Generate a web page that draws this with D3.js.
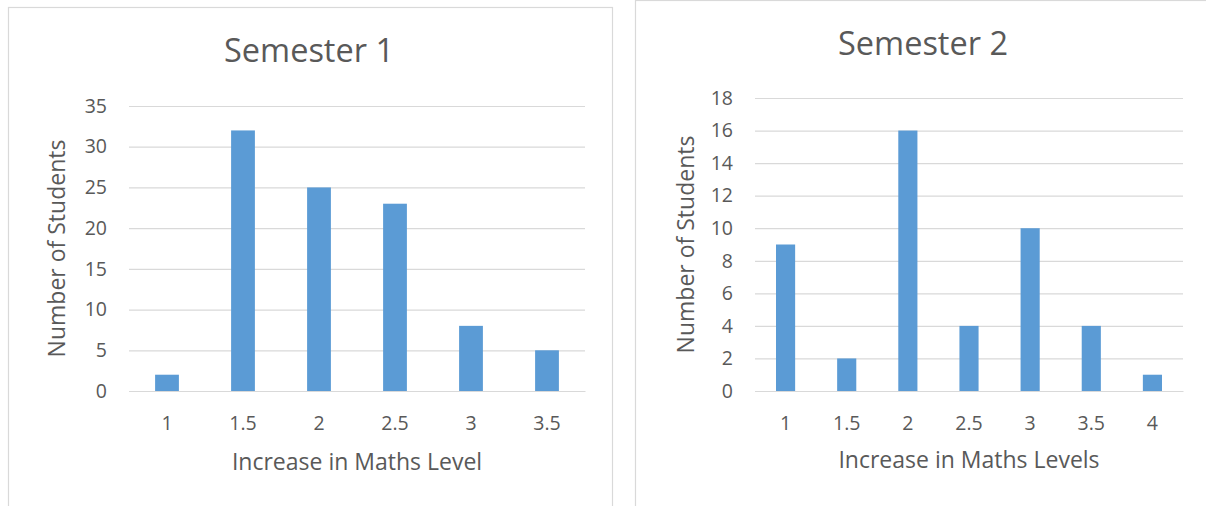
<!DOCTYPE html>
<html>
<head>
<meta charset="utf-8">
<script src="https://cdn.jsdelivr.net/npm/d3@7"></script>
<style>
  html, body { margin: 0; padding: 0; background: #fff; }
  svg { display: block; }
  text { font-family: "Open Sans", "Noto Sans", sans-serif; fill: #595959; }
</style>
</head>
<body>
<svg id="chart" width="1206" height="506"></svg>
<script>
// Semester 1: number of students per increase in maths level
const sem1Levels = ["1", "1.5", "2", "2.5", "3", "3.5"];
const sem1Students = [2, 32, 25, 23, 8, 5];
const sem1Ticks = [0, 5, 10, 15, 20, 25, 30, 35];

// Semester 2
const sem2Levels = ["1", "1.5", "2", "2.5", "3", "3.5", "4"];
const sem2Students = [9, 2, 16, 4, 10, 4, 1];
const sem2Ticks = [0, 2, 4, 6, 8, 10, 12, 14, 16, 18];

const svg = d3.select("#chart");
const BAR = "#5B9BD5", GRID = "#D9D9D9";
const TICK_SIZE = 19.5, AXIS_TITLE_SIZE = 23, TITLE_SIZE = 32.5;

function drawPanel(cfg) {
  const g = svg.append("g");

  // panel frame
  g.append("rect")
    .attr("x", cfg.frame[0] + 0.5).attr("y", cfg.frame[1] + 0.5)
    .attr("width", cfg.frame[2]).attr("height", cfg.frame[3])
    .attr("fill", "#fff").attr("stroke", GRID).attr("stroke-width", 1.2);

  const [x0, x1, yTop, yBot] = cfg.plot;
  const x = d3.scaleBand().domain(cfg.levels).range([x0, x1])
    .paddingInner(0.687).paddingOuter(0.3435);
  const y = d3.scaleLinear().domain([0, d3.max(cfg.ticks)]).range([yBot, yTop]);

  // gridlines + y tick labels
  const ya = g.append("g").attr("transform", `translate(${x0},0)`)
    .call(d3.axisLeft(y).tickValues(cfg.ticks).tickSize(-(x1 - x0)).tickPadding(22));
  ya.select(".domain").remove();
  ya.selectAll(".tick line").attr("stroke", GRID).attr("stroke-width", 1.2);
  ya.selectAll(".tick text").attr("font-size", TICK_SIZE).attr("font-family", null).attr("fill", "#595959");

  // bars
  g.append("g").selectAll("rect")
    .data(cfg.values)
    .join("rect")
    .attr("x", (d, i) => x(cfg.levels[i]))
    .attr("width", x.bandwidth())
    .attr("y", d => y(d))
    .attr("height", d => y(0) - y(d))
    .attr("fill", BAR);

  // category axis
  const xa = g.append("g").attr("transform", `translate(0,${yBot})`)
    .call(d3.axisBottom(x).tickSize(0).tickPadding(25));
  xa.select(".domain").attr("stroke", GRID).attr("stroke-width", 1.2);
  xa.selectAll(".tick text").attr("font-size", TICK_SIZE).attr("font-family", null).attr("fill", "#595959");

  // titles
  g.append("text")
    .attr("x", cfg.titlePos[0]).attr("y", cfg.titlePos[1])
    .attr("text-anchor", "middle").attr("font-size", TITLE_SIZE)
    .text(cfg.title);

  g.append("text")
    .attr("x", cfg.xTitleX).attr("y", cfg.xTitleY)
    .attr("text-anchor", "middle").attr("font-size", AXIS_TITLE_SIZE)
    .text(cfg.xTitle);

  g.append("text")
    .attr("transform", `translate(${cfg.yTitleX},${(yTop + yBot) / 2}) rotate(-90)`)
    .attr("text-anchor", "middle").attr("font-size", AXIS_TITLE_SIZE)
    .text("Number of Students");
}

drawPanel({
  frame: [8, 7, 604, 520],
  plot: [129, 585, 106, 391],
  levels: sem1Levels, values: sem1Students, ticks: sem1Ticks,
  title: "Semester 1", titlePos: [309, 62],
  xTitle: "Increase in Maths Level", xTitleX: 357, xTitleY: 470,
  yTitleX: 65
});

drawPanel({
  frame: [635, 0, 590, 530],
  plot: [755, 1183, 98, 391],
  levels: sem2Levels, values: sem2Students, ticks: sem2Ticks,
  title: "Semester 2", titlePos: [923, 55],
  xTitle: "Increase in Maths Levels", xTitleX: 969, xTitleY: 468,
  yTitleX: 694
});
</script>
</body>
</html>
